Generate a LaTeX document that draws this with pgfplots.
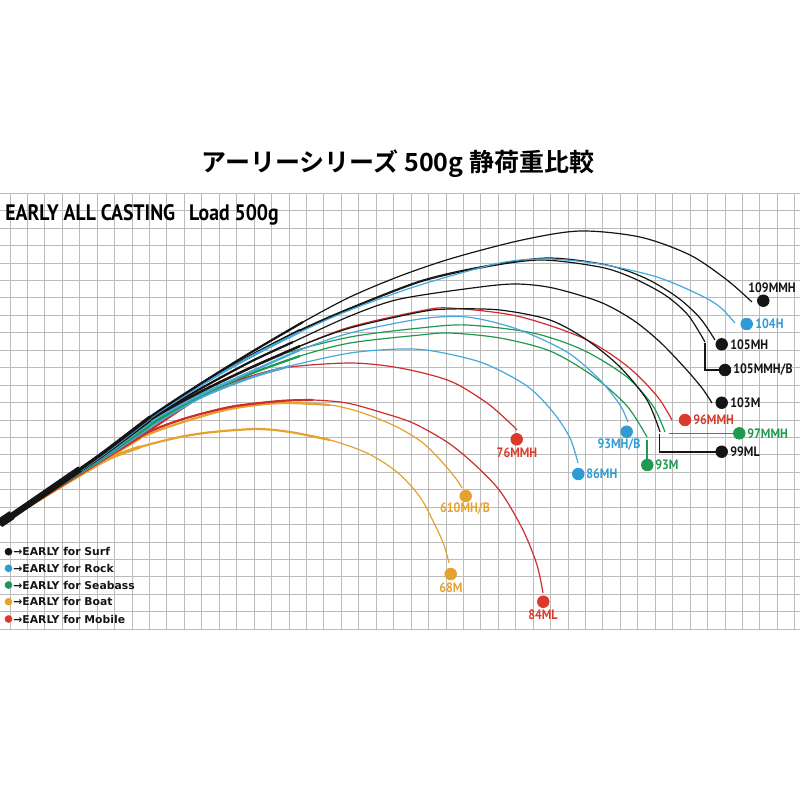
\documentclass[border=0pt]{standalone}
\usepackage{fontspec}
\usepackage{pgfplots}
\pgfplotsset{compat=1.18}
\usepackage{pgfplotstable}
\setmainfont{PT Sans}
\newfontfamily\myr{PT Sans}[FakeStretch=0.88]
\newfontfamily\jpb{Noto Sans CJK JP Bold}
\newfontfamily\dvs{DejaVu Sans}

\definecolor{ck}{HTML}{151515}
\definecolor{cb}{HTML}{2E9BD6}
\definecolor{cbl}{HTML}{45A9DC}
\definecolor{cg}{HTML}{1E9A50}
\definecolor{cr}{HTML}{D93A2B}
\definecolor{crl}{HTML}{CF2D2D}
\definecolor{co}{HTML}{E5A22E}
\definecolor{gridc}{HTML}{BBBBBB}

% rod curves, pixel coordinates of the picture (y downwards)
\pgfplotstableread{
x y
0 524
50 490
100 455
150 417
200 384
250 353
303 322
350 297
400 276
453 258
522 240
580 231
640 237
690 255
727 280
752 302
}\rodA % 109MMH
\pgfplotstableread{
x y
0 524
50 490
100 456
150 418
200 386
250 357
300 332
350 310
420 285
500 263
547 259
600 264
657 277
700 295
720 307
735 323
}\rodB % 104H
\pgfplotstableread{
x y
0 524
50 490
100 456
150 418
200 385
250 356
300 330
350 308
420 281
480 267
547 258
607 265
645 278
677 297
700 318
715 340
}\rodC % 105MH
\pgfplotstableread{
x y
0 524
50 490
100 456
150 418
200 385
250 357
300 331
350 309
420 282
480 268
540 260
600 267
633 278
665 295
688 315
705 342
}\rodD % 105MMH/B
\pgfplotstableread{
x y
0 524
50 490
100 456
150 419
200 389
250 362
293 342
350 316
400 299
480 287
517 284
553 288
600 302
633 320
660 342
685 368
702 388
712 403
}\rodE % 103M
\pgfplotstableread{
x y
0 524
50 490
100 457
150 420
200 392
250 368
300 346
350 328
420 312
450 309
500 310
550 320
587 340
620 367
647 400
660 432
}\rodF % 99ML
\pgfplotstableread{
x y
0 524
50 490
100 457
150 420
200 392
250 368
300 346
350 327
420 311
450 308
517 316
583 338
627 366
657 396
672 420
}\rodG % 96MMH
\pgfplotstableread{
x y
0 524
50 490
100 458
150 422
200 395
250 372
300 350
350 333
420 319
467 317
517 329
567 352
600 380
620 405
628 422
}\rodH % 93MH/B
\pgfplotstableread{
x y
0 524
50 491
100 459
150 424
200 393
250 368
283 354
350 337
420 328
467 325
533 333
583 350
627 377
653 406
665 432
}\rodI % 97MMH
\pgfplotstableread{
x y
0 524
50 491
100 459
150 425
200 396
250 374
300 356
350 343
420 335
450 333
500 338
550 351
593 376
627 406
647 437
}\rodJ % 93M
\pgfplotstableread{
x y
0 524
50 491
100 460
150 427
200 398
250 378
290 366
350 353
400 349
433 351
483 363
527 386
553 412
570 438
578 463
}\rodK % 86MH
\pgfplotstableread{
x y
0 524
50 492
100 461
150 430
200 397
233 382
283 368
350 363
400 368
450 381
487 403
510 423
517 430
}\rodL % 76MMH
\pgfplotstableread{
x y
0 524
50 492
100 461
140 436
180 420
230 407
280 401
313 400
347 403
380 412
413 423
447 442
473 463
500 491
523 530
537 565
543 593
}\rodM % 84ML
\pgfplotstableread{
x y
0 524
50 492
100 462
140 438
180 423
230 409
280 403
330 405
363 413
397 427
423 443
443 463
457 480
462 488
}\rodN % 610MH/B
\pgfplotstableread{
x y
0 524
50 493
80 475
110 458
140 447
180 437
213 432
257 429
290 432
330 440
367 453
397 472
420 497
435 525
444 545
449 563
}\rodO % 68M

% one rod: thin tip, thicker butt section
\newcommand\rod[2]{%
  \addplot[#1, line width=0.6pt, smooth] table {#2};
  \addplot[#1, line width=1.1pt, smooth, restrict x to domain=0:340] table {#2};
  \addplot[#1, line width=1.7pt, smooth, restrict x to domain=0:170] table {#2};
}

\begin{document}
\begin{tikzpicture}
\useasboundingbox (0pt,0pt) rectangle (400pt,-400pt);
\begin{axis}[
  at={(0pt,-96.65pt)}, anchor=north west,
  scale only axis, width=400pt, height=218pt,
  xmin=0, xmax=800, ymin=193.3, ymax=629.3,
  y dir=reverse,
  clip=false,
  axis line style={draw=none},
  major tick length=0pt,
  xtick={10,27.44,...,796}, ytick={193.3,210.74,...,630},
  xticklabels={}, yticklabels={},
  grid=major,
  major grid style={gridc, line width=0.5pt},
]
% rods, lower ones first
\rod{co}{\rodO}
\rod{co}{\rodN}
\rod{crl}{\rodM}
\rod{crl}{\rodL}
\rod{cbl}{\rodK}
\rod{cg}{\rodJ}
\rod{cg}{\rodI}
\rod{cbl}{\rodH}
\rod{crl}{\rodG}
\rod{ck}{\rodF}
\rod{ck}{\rodE}
\rod{ck}{\rodD}
\rod{ck}{\rodC}
\rod{cbl}{\rodB}
\rod{ck}{\rodA}
% grip
\addplot[ck, line width=3.2pt] coordinates {(0,524) (80,469)};
\addplot[ck, line width=4.6pt] coordinates {(0,523) (12,515)};

% leader lines
\addplot[ck, line width=0.9pt] coordinates {(705,343) (705,370) (725,370)};
\addplot[ck, line width=0.9pt] coordinates {(659.5,434) (659.5,452) (722,452)};
\addplot[cg, line width=0.9pt] coordinates {(669,433.5) (739,433.5)};
\addplot[cg, line width=0.9pt] coordinates {(647,440) (647,465)};

% end points
\addplot[only marks, mark=*, mark size=2.9pt, ck] coordinates {(763.3,300.7) (721.7,344.3) (725,370) (721.7,402.7) (721.7,451.7)};
\addplot[only marks, mark=*, mark size=2.9pt, cb] coordinates {(746.7,324) (626.7,431.7) (578.3,474)};
\addplot[only marks, mark=*, mark size=2.9pt, cg] coordinates {(739.3,433.3) (647.3,465)};
\addplot[only marks, mark=*, mark size=2.9pt, cr] coordinates {(685,420) (516.7,439.3) (543.3,601.7)};
\addplot[only marks, mark=*, mark size=2.9pt, co] coordinates {(465.7,496) (450.7,574)};

% legend dots
\addplot[only marks, mark=*, mark size=1.7pt, ck] coordinates {(8.5,551.7)};
\addplot[only marks, mark=*, mark size=1.7pt, cb] coordinates {(8.5,568.3)};
\addplot[only marks, mark=*, mark size=1.7pt, cg] coordinates {(8.5,585)};
\addplot[only marks, mark=*, mark size=1.7pt, co] coordinates {(8.5,601.7)};
\addplot[only marks, mark=*, mark size=1.7pt, cr] coordinates {(8.5,619)};

% texts
\node[font=\jpb\fontsize{12.5pt}{14pt}\selectfont] at (axis cs:398,164) {アーリーシリーズ 500g 静荷重比較};
\node[anchor=west, inner sep=0pt, font=\myr\bfseries\fontsize{11.2pt}{13pt}\selectfont] at (axis cs:5,215) {EARLY ALL CASTING\hspace{7pt}Load 500g};

\begin{scope}[every node/.style={inner sep=0pt, font=\myr\bfseries\fontsize{6.8pt}{8pt}\selectfont}]
\node[anchor=west, ck] at (axis cs:748,288) {109MMH};
\node[anchor=west, cb] at (axis cs:755,324) {104H};
\node[anchor=west, ck] at (axis cs:730,344.5) {105MH};
\node[anchor=west, ck] at (axis cs:733,370) {105MMH/B};
\node[anchor=west, ck] at (axis cs:730,402.7) {103M};
\node[anchor=west, cr] at (axis cs:693,420) {96MMH};
\node[anchor=west, cg] at (axis cs:747,433.3) {97MMH};
\node[anchor=west, ck] at (axis cs:730,452) {99ML};
\node[anchor=west, cg] at (axis cs:655,465) {93M};
\node[cb] at (axis cs:619,445) {93MH/B};
\node[anchor=west, cb] at (axis cs:586,474) {86MH};
\node[cr] at (axis cs:517,452.3) {76MMH};
\node[co] at (axis cs:465,509) {610MH/B};
\node[co] at (axis cs:451,588) {68M};
\node[cr] at (axis cs:543,615) {84ML};
\end{scope}

\begin{scope}[every node/.style={anchor=west, inner sep=0pt, ck, font=\dvs\bfseries\fontsize{5.4pt}{6.5pt}\selectfont}]
\node at (axis cs:13,551.7) {→EARLY for Surf};
\node at (axis cs:13,568.3) {→EARLY for Rock};
\node at (axis cs:13,585) {→EARLY for Seabass};
\node at (axis cs:13,601.7) {→EARLY for Boat};
\node at (axis cs:13,619) {→EARLY for Mobile};
\end{scope}
\end{axis}
\end{tikzpicture}
\end{document}
